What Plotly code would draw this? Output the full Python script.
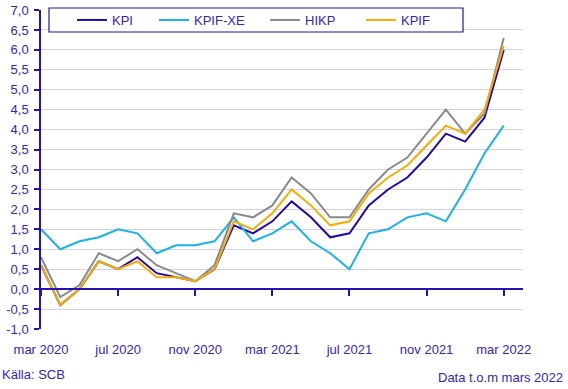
import plotly.graph_objects as go

months = ["2020-03", "2020-04", "2020-05", "2020-06", "2020-07", "2020-08", "2020-09",
          "2020-10", "2020-11", "2020-12", "2021-01", "2021-02", "2021-03", "2021-04",
          "2021-05", "2021-06", "2021-07", "2021-08", "2021-09", "2021-10", "2021-11",
          "2021-12", "2022-01", "2022-02", "2022-03"]

kpi = [0.6, -0.4, 0.0, 0.7, 0.5, 0.8, 0.4, 0.3, 0.2, 0.5, 1.6, 1.4, 1.7, 2.2, 1.8, 1.3,
       1.4, 2.1, 2.5, 2.8, 3.3, 3.9, 3.7, 4.3, 6.0]
kpif_xe = [1.5, 1.0, 1.2, 1.3, 1.5, 1.4, 0.9, 1.1, 1.1, 1.2, 1.8, 1.2, 1.4, 1.7, 1.2, 0.9,
           0.5, 1.4, 1.5, 1.8, 1.9, 1.7, 2.5, 3.4, 4.1]
hikp = [0.8, -0.2, 0.1, 0.9, 0.7, 1.0, 0.6, 0.4, 0.2, 0.6, 1.9, 1.8, 2.1, 2.8, 2.4, 1.8,
        1.8, 2.5, 3.0, 3.3, 3.9, 4.5, 3.9, 4.4, 6.3]
kpif = [0.6, -0.4, 0.0, 0.7, 0.5, 0.7, 0.3, 0.3, 0.2, 0.5, 1.7, 1.5, 1.9, 2.5, 2.1, 1.6,
        1.7, 2.4, 2.8, 3.1, 3.6, 4.1, 3.9, 4.5, 6.1]

x_tick_vals = ["2020-03", "2020-07", "2020-11", "2021-03", "2021-07", "2021-11", "2022-03"]
x_tick_text = ["mar 2020", "jul 2020", "nov 2020", "mar 2021", "jul 2021", "nov 2021", "mar 2022"]

y_tick_vals = [-1.0, -0.5, 0.0, 0.5, 1.0, 1.5, 2.0, 2.5, 3.0, 3.5, 4.0, 4.5, 5.0, 5.5, 6.0, 6.5, 7.0]
y_tick_text = [("%.1f" % v).replace(".", ",") for v in y_tick_vals]

series = [
    ("KPI", kpi, "#2508aa"),
    ("KPIF-XE", kpif_xe, "#1cb2e8"),
    ("HIKP", hikp, "#8a8a8a"),
    ("KPIF", kpif, "#f7ad00"),
]

TEXT = "#3524c0"
AXIS = "#2a10b0"
GRID = "#d2d2f0"
FONT = "Liberation Sans, Arial, sans-serif"

L, R, T, B = 41, 45, 10, 60
W, H = 568, 389
pw, ph = W - L - R, H - T - B
zero_pos = (0 - (-1.0)) / (7.0 - (-1.0))

# text start x (px) of each legend entry
legend_text_x = [112, 194, 305, 401]
legend_names = ["legend", "legend2", "legend3", "legend4"]

fig = go.Figure()
for (name, vals, color), lg in zip(series, legend_names):
    fig.add_trace(go.Scatter(x=months, y=vals, name=name, mode="lines", legend=lg,
                             line=dict(color=color, width=2), xaxis="x", yaxis="y"))

# invisible trace to carry the zero-line x axis with ticks
fig.add_trace(go.Scatter(x=months, y=kpi, mode="lines", line=dict(width=0),
                         showlegend=False, hoverinfo="skip", xaxis="x2", yaxis="y"))

legend_common = dict(orientation="h", yanchor="middle", y=(H - B - 20) / ph,
                     xanchor="left", bgcolor="rgba(0,0,0,0)", borderwidth=0,
                     font=dict(family=FONT, size=13, color=TEXT), itemwidth=30)
legends = {}
for lg, tx in zip(legend_names, legend_text_x):
    legends[lg] = dict(legend_common, x=(tx - 40 - L) / pw)

fig.update_layout(
    width=W, height=H, autosize=False,
    margin=dict(l=L, r=R, t=T, b=B, autoexpand=False),
    paper_bgcolor="white", plot_bgcolor="white",
    font=dict(family=FONT, size=13, color=TEXT),
    xaxis=dict(type="category", categoryorder="array", categoryarray=months,
               range=[0, 25], showgrid=False, showline=False, zeroline=False,
               automargin=False,
               tickmode="array", tickvals=x_tick_vals, ticktext=x_tick_text,
               ticks="outside", ticklen=8, tickcolor="rgba(0,0,0,0)",
               tickfont=dict(family=FONT, size=13, color=TEXT)),
    xaxis2=dict(type="category", categoryorder="array", categoryarray=months,
                range=[0, 25], overlaying="x", anchor="free", position=zero_pos,
                showgrid=False, showline=True, linecolor=AXIS, linewidth=1.5,
                automargin=False,
                zeroline=False, tickmode="array", tickvals=x_tick_vals,
                showticklabels=False, ticks="outside", ticklen=6, tickcolor=AXIS,
                tickwidth=1.5),
    yaxis=dict(range=[-1.0, 7.0], tickmode="array", tickvals=y_tick_vals,
               ticktext=y_tick_text, showgrid=True, gridcolor=GRID, gridwidth=1,
               zeroline=False, showline=True, linecolor=AXIS, linewidth=1.5,
               automargin=False,
               ticks="outside", ticklen=5, tickcolor=AXIS, tickwidth=1.5,
               ticklabelstandoff=3,
               tickfont=dict(family=FONT, size=13, color=TEXT)),
    shapes=[dict(type="rect", xref="paper", yref="paper", layer="above",
                 x0=(49 - L) / pw, x1=(463 - L) / pw,
                 y0=(H - B - 32) / ph, y1=(H - B - 8) / ph,
                 line=dict(color=AXIS, width=1.2), fillcolor="white")],
    annotations=[
        dict(text="Källa: SCB", xref="paper", yref="paper", x=-L / pw, xanchor="left",
             y=(H - B - 374) / ph, yanchor="middle", showarrow=False,
             font=dict(family=FONT, size=13, color=TEXT)),
        dict(text="Data t.o.m mars 2022", xref="paper", yref="paper",
             x=(565 - L) / pw, xanchor="right", y=(H - B - 377.5) / ph,
             yanchor="middle", showarrow=False,
             font=dict(family=FONT, size=13, color=TEXT)),
    ],
    showlegend=True,
    hovermode=False,
    **legends,
)

fig.write_html("out.html", config={"displayModeBar": False},
               post_script="document.body.style.margin='0';document.body.style.padding='0';")
